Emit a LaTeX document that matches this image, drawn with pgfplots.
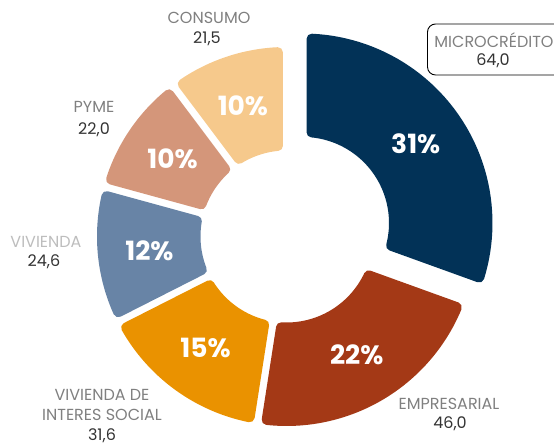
\documentclass[border=0pt]{standalone}
\usepackage{pgfplots}
\pgfplotsset{compat=1.18}
\usepackage{pgfplotstable}
\usepackage{fontspec}
\setmainfont{Poppins}
\definecolor{cmicro}{HTML}{023257}
\definecolor{cemp}{HTML}{A43916}
\definecolor{cvis}{HTML}{EA9200}
\definecolor{cviv}{HTML}{6884A6}
\definecolor{cpyme}{HTML}{D4967A}
\definecolor{ccons}{HTML}{F6C98C}
\definecolor{labgray}{HTML}{808080}
\definecolor{lightgray}{HTML}{BDBDBD}
\definecolor{valdark}{HTML}{333333}

\tikzset{
  pct/.style={font=\bfseries\fontsize{26.5}{26.5}\selectfont, text=white, inner sep=0},
  lab/.style={font=\fontsize{16}{20}\selectfont, text=labgray, inner sep=0, align=center},
  val/.style={font=\fontsize{16}{20}\selectfont, text=valdark, inner sep=0}}

% values (billions), clockwise from 12 o'clock
\pgfplotstableread{
cat value
Microcredito 64.0
Empresarial 46.0
ViviendaInteresSocial 31.6
Vivienda 24.6
PYME 22.0
Consumo 21.5
}\datatable

\newcommand\total{209.7}
\newcommand\cx{286.5}
\newcommand\cy{209.5}
\newcommand\Rout{189.5}
\newcommand\Rin{86}
\newcommand\rc{5}
\newcommand\hg{3.6}

% #1 cumulative before, #2 value, #3 colour, #4 dx, #5 dy, #6 percent label
\newcommand\slice[6]{%
  \pgfmathsetmacro\hi{90-(#1)/\total*360}%
  \pgfmathsetmacro\lo{90-((#1)+(#2))/\total*360}%
  \pgfmathsetmacro\Ro{\Rout-\rc}%
  \pgfmathsetmacro\ri{\Rin+\rc}%
  \pgfmathsetmacro\ao{asin((\hg+\rc)/\Ro)}%
  \pgfmathsetmacro\ai{asin((\hg+\rc)/\ri)}%
  \pgfmathsetmacro\oa{\hi-\ao}%
  \pgfmathsetmacro\ob{\lo+\ao}%
  \pgfmathsetmacro\ia{\lo+\ai}%
  \pgfmathsetmacro\ib{\hi-\ai}%
  \pgfmathsetmacro\ox{\cx+#4}%
  \pgfmathsetmacro\oy{\cy+#5}%
  \pgfmathsetmacro\lx{\ox+137.75*cos((\hi+\lo)/2)}%
  \pgfmathsetmacro\ly{\oy+137.75*sin((\hi+\lo)/2)}%
  \edef\doplot{\noexpand\addplot[fill=#3, draw=#3, line width=10pt, line join=round,
     domain=0:2, samples=101, variable=\noexpand\t]
   ({\ox+(\noexpand\t<=1)*\Ro*cos(\oa+(\ob-\oa)*\noexpand\t)+(\noexpand\t>1)*\ri*cos(\ia+(\ib-\ia)*max(0,\noexpand\t-1.02)/0.98)},
    {\oy+(\noexpand\t<=1)*\Ro*sin(\oa+(\ob-\oa)*\noexpand\t)+(\noexpand\t>1)*\ri*sin(\ia+(\ib-\ia)*max(0,\noexpand\t-1.02)/0.98)}) -- cycle;
   \noexpand\node[pct] at (axis cs:\lx,\ly) {#6};}%
  \doplot
}

\begin{document}
\begin{tikzpicture}
\path[use as bounding box] (0,0) rectangle (554pt,446pt);
\begin{axis}[at={(0,0)}, anchor=south west, scale only axis,
  width=554pt, height=446pt, xmin=0, xmax=554, ymin=0, ymax=446,
  hide axis, clip=false]
\slice{0}{64.0}{cmicro}{16.5}{13.5}{31\%}
\slice{64.0}{46.0}{cemp}{0}{0}{22\%}
\slice{110.0}{31.6}{cvis}{0}{0}{15\%}
\slice{141.6}{24.6}{cviv}{0}{0}{12\%}
\slice{166.2}{22.0}{cpyme}{0}{0}{10\%}
\slice{188.2}{21.5}{ccons}{0}{0}{10\%}

% category labels
\node[lab] at (axis cs:209,428.5) {CONSUMO};
\node[val] at (axis cs:207,407) {21,5};
\node[lab] at (axis cs:94,339) {PYME};
\node[val] at (axis cs:94,316) {22,0};
\node[lab, text=lightgray] at (axis cs:46,204) {VIVIENDA};
\node[val] at (axis cs:44,184) {24,6};
\node[lab] at (axis cs:102,41.5) {VIVIENDA DE\\INTERES SOCIAL};
\node[val] at (axis cs:102,10) {31,6};
\node[lab] at (axis cs:449,42) {EMPRESARIAL};
\node[val] at (axis cs:450,22) {46,0};
\draw[line width=0.9pt, rounded corners=8pt] (axis cs:570,371) -- (axis cs:427.5,371) -- (axis cs:427.5,422) -- (axis cs:570,422);
\node[lab] at (axis cs:494,406) {MICROCRÉDITO};
\node[val] at (axis cs:493,385) {64,0};
\end{axis}
\end{tikzpicture}
\end{document}
